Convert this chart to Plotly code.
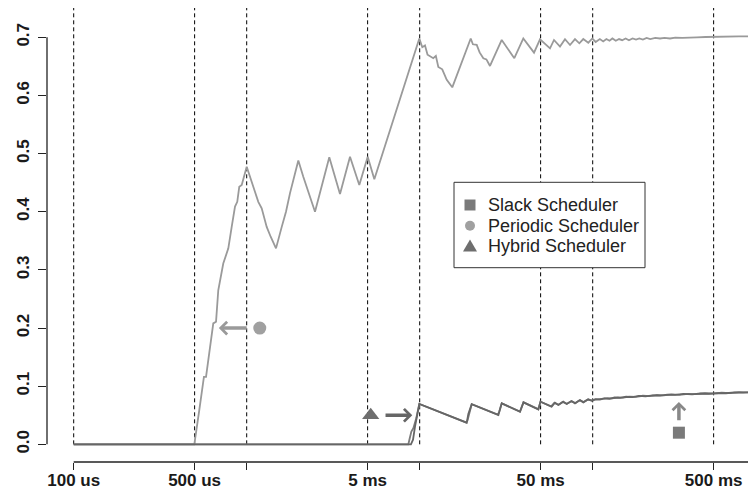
import math
import plotly.graph_objects as go

# ---------------- data (time in ms, value) ----------------
TICK_MS = [0.1, 0.5, 1, 5, 10, 50, 100, 500]
TICK_TEXT = ["100 us", "500 us", "", "5 ms", "", "50 ms", "", "500 ms"]
Y_TICKS = [0.0, 0.1, 0.2, 0.3, 0.4, 0.5, 0.6, 0.7]
Y_TEXT = ["0.0", "0.1", "0.2", "0.3", "0.4", "0.5", "0.6", "0.7"]

periodic_ms = [0.1, 0.498, 0.532, 0.566, 0.582, 0.608, 0.641, 0.665, 0.685, 0.732,
               0.783, 0.819, 0.856, 0.882, 0.906, 0.936, 1.0, 1.092, 1.167, 1.221,
               1.305, 1.376, 1.477, 1.594, 1.687, 1.780, 1.988, 2.124, 2.322, 2.482,
               3.002, 3.462, 3.955, 4.476, 5.005, 5.467, 9.95, 10.35, 10.73, 11.1,
               11.98, 12.4, 12.81, 13.5, 14.33, 15.43, 19.72, 20.3, 21.36, 22.2,
               23.32, 24.3, 25.49, 29.79, 35.23, 39.71, 45.80, 49.60, 56.65, 59.75,
               64.71, 69.16, 73.94, 79.0, 83.7, 88.2, 94.3, 99.5,
               104, 110, 115, 120, 125, 130, 136, 142, 148, 155, 162, 170, 178, 186,
               195, 205, 215, 230, 245, 260, 280, 300, 330, 360, 400, 450, 500, 560,
               620, 700, 780, 880]
periodic_val = [0, 0, 0.059, 0.116, 0.116, 0.162, 0.208, 0.211, 0.265, 0.311,
                0.337, 0.374, 0.409, 0.417, 0.443, 0.446, 0.4775, 0.443, 0.417, 0.406,
                0.374, 0.357, 0.337, 0.374, 0.400, 0.432, 0.488, 0.460, 0.426, 0.400,
                0.4936, 0.4305, 0.4947, 0.446, 0.4947, 0.4558, 0.698, 0.683, 0.686, 0.670,
                0.664, 0.668, 0.649, 0.645, 0.627, 0.614, 0.698, 0.688, 0.687, 0.674,
                0.664, 0.662, 0.6507, 0.6954, 0.664, 0.698, 0.6736, 0.6966, 0.681, 0.6954,
                0.684, 0.6966, 0.6868, 0.697, 0.6897, 0.697, 0.6907, 0.698,
                0.692, 0.697, 0.693, 0.697, 0.694, 0.698, 0.694, 0.697, 0.695, 0.698,
                0.695, 0.698, 0.696, 0.698, 0.696, 0.699, 0.697, 0.699, 0.698, 0.699,
                0.698, 0.6995, 0.699, 0.700, 0.700, 0.7005, 0.701, 0.7005, 0.701, 0.7015,
                0.7015, 0.702]

hybrid_ms = [0.1, 8.9, 9.15, 9.39, 9.95, 18.7, 19.1, 19.98, 28.5, 29.8, 38.0, 39.8,
             48.5, 49.9, 57.9, 60.5, 63.3, 67.6, 70.7, 75.6, 79.0, 84.5, 88.2, 94.3, 98.7,
             104, 110, 117, 125, 134, 144, 156, 170, 185, 202, 222, 245, 270, 300,
             335, 375, 420, 470, 525, 590, 660, 740, 880]
hybrid_val = [0, 0, 0.008, 0.03, 0.0693, 0.0372, 0.052, 0.069, 0.0504, 0.0705, 0.056, 0.0722,
              0.060, 0.0733, 0.0647, 0.0716, 0.0676, 0.0733, 0.0693, 0.0745, 0.0705, 0.0762,
              0.0722, 0.0774, 0.075,
              0.0775, 0.0768, 0.0790, 0.0782, 0.0805, 0.0798, 0.0818, 0.0812, 0.0832, 0.0826,
              0.0843, 0.0838, 0.0855, 0.0849, 0.0866, 0.0860, 0.0874, 0.0870, 0.0882, 0.0878,
              0.0893, 0.0888, 0.0903]

slack_ms = [0.1, 8.6, 8.75, 8.95, 9.2, 9.55, 9.95, 18.6, 18.9, 19.2, 19.98, 28.3, 28.8,
            29.8, 38.0, 39.8, 48.5, 49.9, 57.5, 60.0, 63.5, 67.0, 71.0, 75.0, 79.5, 84.0,
            88.5, 93.8, 99.0,
            103, 108, 115, 122, 130, 140, 150, 163, 178, 195, 213, 235, 258, 285, 318,
            355, 398, 445, 498, 556, 625, 700, 790, 880]
slack_val = [0, 0, 0.01, 0.022, 0.028, 0.045, 0.0693, 0.0375, 0.041, 0.05, 0.069, 0.051, 0.056,
             0.0705, 0.0565, 0.0722, 0.0605, 0.0733, 0.0652, 0.0712, 0.0680, 0.0728, 0.0698,
             0.0740, 0.0710, 0.0758, 0.0726, 0.0770, 0.0755,
             0.0770, 0.0780, 0.0785, 0.0795, 0.0790, 0.0808, 0.0803, 0.0822, 0.0817, 0.0835,
             0.0830, 0.0848, 0.0842, 0.0858, 0.0852, 0.0869, 0.0864, 0.0878, 0.0873, 0.0887,
             0.0882, 0.0896, 0.0892, 0.0906]

# annotation markers (ms, value) and arrow ends (ms)
MARK_PERIODIC = (1.19, 0.20)
ARROW_PERIODIC = (1.02, 0.69)   # tail, tip (ms) at y=0.2
MARK_HYBRID = (5.21, 0.05)
ARROW_HYBRID = (6.22, 9.06)     # tail, tip (ms) at y=0.05
MARK_SLACK = (315.0, 0.02)
ARROW_SLACK = (0.039, 0.073)    # tail, tip (value) at x=315ms

LEGEND_LABELS = ["Slack Scheduler", "Periodic Scheduler", "Hybrid Scheduler"]

C_PERIODIC = "#9a9a9a"
C_SLACK = "#7c7c7c"
C_HYBRID = "#666666"
FONT = "Liberation Sans, Arial, sans-serif"

# the page body has an 8px margin: the figure is drawn at window offset (8, 8)
OFF = 8
W, H = 756 - OFF, 495 - OFF
PLOT_L, PLOT_R, PLOT_T, PLOT_B = 47, 756, 8, 462      # plot area in window pixels
ML = PLOT_L - OFF
MR = (OFF + W) - PLOT_R
MT = PLOT_T - OFF
MB = (OFF + H) - PLOT_B
X_RANGE = [-1.1543, 2.9439]
Y_RANGE = [-0.0304, 0.7504]
PW, PH = PLOT_R - PLOT_L, PLOT_B - PLOT_T


def px2paper(px, py):
    return (px - PLOT_L) / PW, (PLOT_B - py) / PH


def xfrac(ms):
    return (math.log10(ms) - X_RANGE[0]) / (X_RANGE[1] - X_RANGE[0])


def yfrac(v):
    return (v - Y_RANGE[0]) / (Y_RANGE[1] - Y_RANGE[0])


fig = go.Figure()

fig.add_trace(go.Scatter(x=periodic_ms, y=periodic_val, mode="lines",
                         line=dict(color=C_PERIODIC, width=1.8), showlegend=False))
fig.add_trace(go.Scatter(x=slack_ms, y=slack_val, mode="lines",
                         line=dict(color=C_SLACK, width=1.8), showlegend=False))
fig.add_trace(go.Scatter(x=hybrid_ms, y=hybrid_val, mode="lines",
                         line=dict(color=C_HYBRID, width=1.8), showlegend=False))

# annotation markers
fig.add_trace(go.Scatter(x=[MARK_PERIODIC[0]], y=[MARK_PERIODIC[1]], mode="markers",
                         marker=dict(symbol="circle", size=13, color="#a0a0a0"), showlegend=False))
fig.add_trace(go.Scatter(x=[MARK_HYBRID[0]], y=[MARK_HYBRID[1]], mode="markers",
                         marker=dict(symbol="triangle-up", size=15, color="#6e6e6e"), showlegend=False))
fig.add_trace(go.Scatter(x=[MARK_SLACK[0]], y=[MARK_SLACK[1]], mode="markers",
                         marker=dict(symbol="square", size=12, color="#7a7a7a"), showlegend=False))

shapes = []
# dashed reference lines
for t in TICK_MS:
    shapes.append(dict(type="line", xref="x", yref="y", x0=t, x1=t, y0=0, y1=0.752,
                       line=dict(color="black", width=1, dash="4px,3px"), layer="below"))
# white boxes behind annotation markers
shapes.append(dict(type="rect", xref="x", yref="y", xsizemode="pixel", ysizemode="pixel",
                   xanchor=MARK_PERIODIC[0], yanchor=MARK_PERIODIC[1],
                   x0=-44, x1=13, y0=-20, y1=20, fillcolor="white", line=dict(width=0),
                   layer="below"))
shapes.append(dict(type="rect", xref="x", yref="y", xsizemode="pixel", ysizemode="pixel",
                   xanchor=MARK_HYBRID[0], yanchor=MARK_HYBRID[1],
                   x0=-13, x1=42, y0=-21, y1=21, fillcolor="white", line=dict(width=0),
                   layer="below"))
# axis lines
shapes.append(dict(type="line", xref="paper", yref="paper", x0=xfrac(0.1), x1=1, y0=0, y1=0,
                   line=dict(color="#222", width=1.3)))
shapes.append(dict(type="line", xref="paper", yref="paper", x0=0, x1=0,
                   y0=yfrac(0.0), y1=yfrac(0.7), line=dict(color="#222", width=1.3)))
# legend box
lx0, ly0 = px2paper(454, 267.7)
lx1, ly1 = px2paper(645, 182.3)
shapes.append(dict(type="rect", xref="paper", yref="paper", x0=lx0, x1=lx1, y0=ly0, y1=ly1,
                   fillcolor="white", line=dict(color="#333", width=1)))
rows = [205, 225.7, 246]
sx, _ = px2paper(470, 0)
row_y = [px2paper(0, r)[1] for r in rows]
shapes.append(dict(type="rect", xref="paper", yref="paper", xsizemode="pixel", ysizemode="pixel",
                   xanchor=sx, yanchor=row_y[0], x0=-5.5, x1=5.5, y0=-5.5, y1=5.5,
                   fillcolor="#7a7a7a", line=dict(width=0)))
shapes.append(dict(type="circle", xref="paper", yref="paper", xsizemode="pixel", ysizemode="pixel",
                   xanchor=sx, yanchor=row_y[1], x0=-5, x1=5, y0=-5, y1=5,
                   fillcolor="#a0a0a0", line=dict(width=0)))
shapes.append(dict(type="path", xref="paper", yref="paper", xsizemode="pixel", ysizemode="pixel",
                   xanchor=sx, yanchor=row_y[2], path="M-7,-5.5 L7,-5.5 L0,6.5 Z",
                   fillcolor="#6e6e6e", line=dict(width=0)))

annotations = []
tx, _ = px2paper(486, 0)
for lab, ry in zip(LEGEND_LABELS, row_y):
    annotations.append(dict(xref="paper", yref="paper", x=tx, y=ry, text=lab, showarrow=False,
                            xanchor="left", yanchor="middle",
                            font=dict(family=FONT, size=18, color="#222")))

# arrows
annotations.append(dict(xref="x", yref="y", axref="x", ayref="y",
                        x=math.log10(ARROW_PERIODIC[1]), y=MARK_PERIODIC[1],
                        ax=math.log10(ARROW_PERIODIC[0]), ay=MARK_PERIODIC[1],
                        text="", showarrow=True, arrowhead=4, arrowsize=0.7, arrowwidth=3.5,
                        arrowcolor="#9a9a9a", standoff=0, startstandoff=0))
annotations.append(dict(xref="x", yref="y", axref="x", ayref="y",
                        x=math.log10(ARROW_HYBRID[1]), y=MARK_HYBRID[1],
                        ax=math.log10(ARROW_HYBRID[0]), ay=MARK_HYBRID[1],
                        text="", showarrow=True, arrowhead=4, arrowsize=0.7, arrowwidth=3.5,
                        arrowcolor="#666666", standoff=0, startstandoff=0))
annotations.append(dict(xref="x", yref="y", axref="x", ayref="y",
                        x=math.log10(MARK_SLACK[0]), y=ARROW_SLACK[1],
                        ax=math.log10(MARK_SLACK[0]), ay=ARROW_SLACK[0],
                        text="", showarrow=True, arrowhead=4, arrowsize=0.7, arrowwidth=3.5,
                        arrowcolor="#888888", standoff=0, startstandoff=0))

TICK_FONT = dict(family="Liberation Sans, Arial, sans-serif", size=17, color="#1a1a1a",
                 weight="bold")

fig.update_layout(
    width=W, height=H,
    margin=dict(l=ML, r=MR, t=MT, b=MB, pad=0, autoexpand=False),
    paper_bgcolor="white", plot_bgcolor="white",
    font=dict(family=FONT, size=17, color="#222"),
    shapes=shapes, annotations=annotations, showlegend=False,
    xaxis=dict(type="log", range=X_RANGE, tickvals=TICK_MS, ticktext=TICK_TEXT,
               ticks="outside", ticklen=7, tickwidth=1.3, tickcolor="#222",
               showgrid=False, zeroline=False, showline=False, automargin=False,
               ticklabelstandoff=-4, tickfont=TICK_FONT),
    yaxis=dict(range=Y_RANGE, tickvals=Y_TICKS, ticktext=Y_TEXT, tickangle=-90,
               ticks="outside", ticklen=8, tickwidth=1.3, tickcolor="#222",
               showgrid=False, zeroline=False, showline=False, automargin=False,
               ticklabelstandoff=2, tickfont=TICK_FONT),
)

fig.write_html("out.html")
